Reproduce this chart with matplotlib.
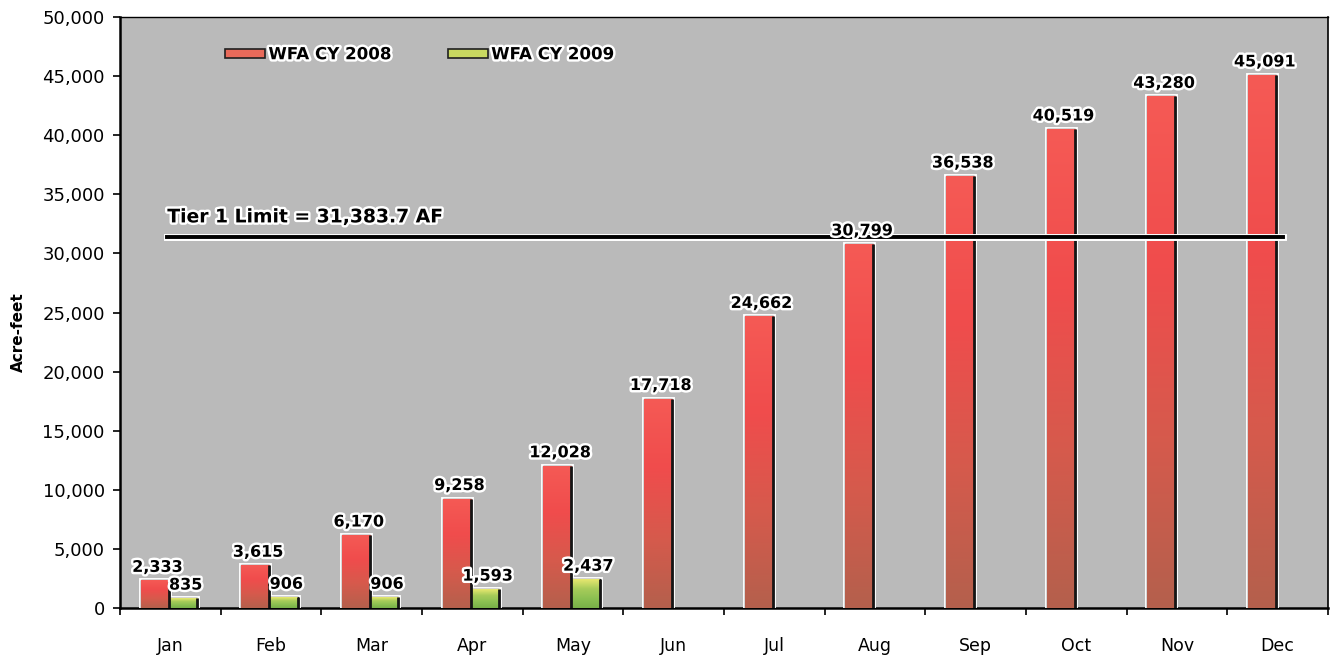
import matplotlib
matplotlib.use("Agg")
import matplotlib.pyplot as plt
import matplotlib.patheffects as pe
from matplotlib.patches import Patch
from matplotlib.colors import LinearSegmentedColormap
import numpy as np

months = ["Jan", "Feb", "Mar", "Apr", "May", "Jun", "Jul", "Aug", "Sep", "Oct", "Nov", "Dec"]
wfa_2008 = [2333, 3615, 6170, 9258, 12028, 17718, 24662, 30799, 36538, 40519, 43280, 45091]
wfa_2009 = [835, 906, 906, 1593, 2437]
tier1_limit = 31383.7
tier1_text = "Tier 1 Limit = 31,383.7 AF"
yticks = [0, 5000, 10000, 15000, 20000, 25000, 30000, 35000, 40000, 45000, 50000]

plt.rcParams['font.family'] = ['DejaVu Sans']

fig = plt.figure(figsize=(13.32, 6.55), dpi=100)
ax = fig.add_axes([120/1332, 47/655, 1208/1332, 591/655])
ax.set_facecolor('#bababa')

x = np.arange(len(months))
w = 0.28
halo = [pe.Stroke(linewidth=3.5, foreground='white'), pe.Normal()]

red_cmap = LinearSegmentedColormap.from_list('r', ['#b4604c', '#d65a4c', '#f04c4c', '#f55a55'])
green_cmap = LinearSegmentedColormap.from_list('g', ['#78b048', '#8cc052', '#a8cc5a', '#e8e870'])

def gradient_bars(bars, cmap):
    for b in bars:
        b.set_path_effects(halo)
        x0, y0 = b.get_x(), b.get_y()
        x1, y1 = x0 + b.get_width(), y0 + b.get_height()
        grad = np.linspace(0, 1, 256).reshape(-1, 1)
        im = ax.imshow(grad, extent=[x0, x1, y0, y1], origin='lower', aspect='auto',
                       cmap=cmap, zorder=b.get_zorder() + 0.1)
        im.set_clip_path(b)
        ax.plot([x1, x1], [y0, y1], color='#151515', lw=2.0, zorder=b.get_zorder() + 0.2,
                solid_capstyle='butt')

r_bars = ax.bar(x - 0.155, wfa_2008, width=w, color='#e85050', edgecolor='#303030',
                linewidth=1.0, zorder=3)
g_bars = ax.bar(x[:len(wfa_2009)] + 0.125, wfa_2009, width=w, color='#90c050',
                edgecolor='#303030', linewidth=1.0, zorder=3)
gradient_bars(r_bars, red_cmap)
gradient_bars(g_bars, green_cmap)

lbl_kw = dict(textcoords='offset points', ha='center', va='bottom',
              fontsize=11.5, fontweight='bold', zorder=6)
for b, v in zip(r_bars, wfa_2008):
    t = ax.annotate(f"{v:,}", (b.get_x() + b.get_width()/2, v), xytext=(2, 4), **lbl_kw)
    t.set_path_effects(halo)
for b, v in zip(g_bars, wfa_2009):
    t = ax.annotate(f"{v:,}", (b.get_x() + b.get_width()/2, v), xytext=(2, 4), **lbl_kw)
    t.set_path_effects(halo)

# Tier 1 limit line
ax.plot([-0.03, 11.05], [tier1_limit, tier1_limit], color='black', lw=2.8, zorder=5,
        path_effects=[pe.Stroke(linewidth=5, foreground='white'), pe.Normal()])
t = ax.text(-0.03, tier1_limit + 900, tier1_text, fontsize=13.5, fontweight='bold',
            ha='left', va='bottom', zorder=6)
t.set_path_effects(halo)

ax.set_xlim(-0.5, len(months) - 0.5)
ax.set_ylim(0, 50000)
ax.set_yticks(yticks)
ax.set_yticklabels([f"{v:,}" for v in yticks], fontsize=13)
ax.set_xticks(x)
ax.set_xticklabels(months, fontsize=12.5)
ax.set_xticks(np.arange(len(months) + 1) - 0.5, minor=True)
ax.tick_params(axis='x', which='major', length=0, pad=21)
ax.tick_params(axis='x', which='minor', length=5, width=1.2, direction='out')
ax.tick_params(axis='y', length=5, width=1.2, direction='out', pad=6)
for s in ax.spines.values():
    s.set_color('black')
ax.spines['left'].set_linewidth(1.8)
ax.spines['bottom'].set_linewidth(1.8)
ax.spines['top'].set_linewidth(1.0)
ax.spines['right'].set_linewidth(1.2)

ax.set_ylabel("Acre-feet", fontsize=11, fontweight='bold')
ax.yaxis.set_label_coords(-0.078, 0.467)

handles = [Patch(facecolor='#e86a5a', edgecolor='#202020', linewidth=1.2),
           Patch(facecolor='#c8d860', edgecolor='#202020', linewidth=1.2)]
leg = ax.legend(handles, ["WFA CY 2008", "WFA CY 2009"], loc='center left',
                bbox_to_anchor=(0.087, 0.937), ncol=2, frameon=False,
                handlelength=2.4, handleheight=0.45, handletextpad=0.2,
                columnspacing=3.4, borderpad=0, borderaxespad=0,
                prop={'size': 12, 'weight': 'bold'})
for txt in leg.get_texts():
    txt.set_path_effects(halo)

fig.savefig("out.png", dpi=100)
